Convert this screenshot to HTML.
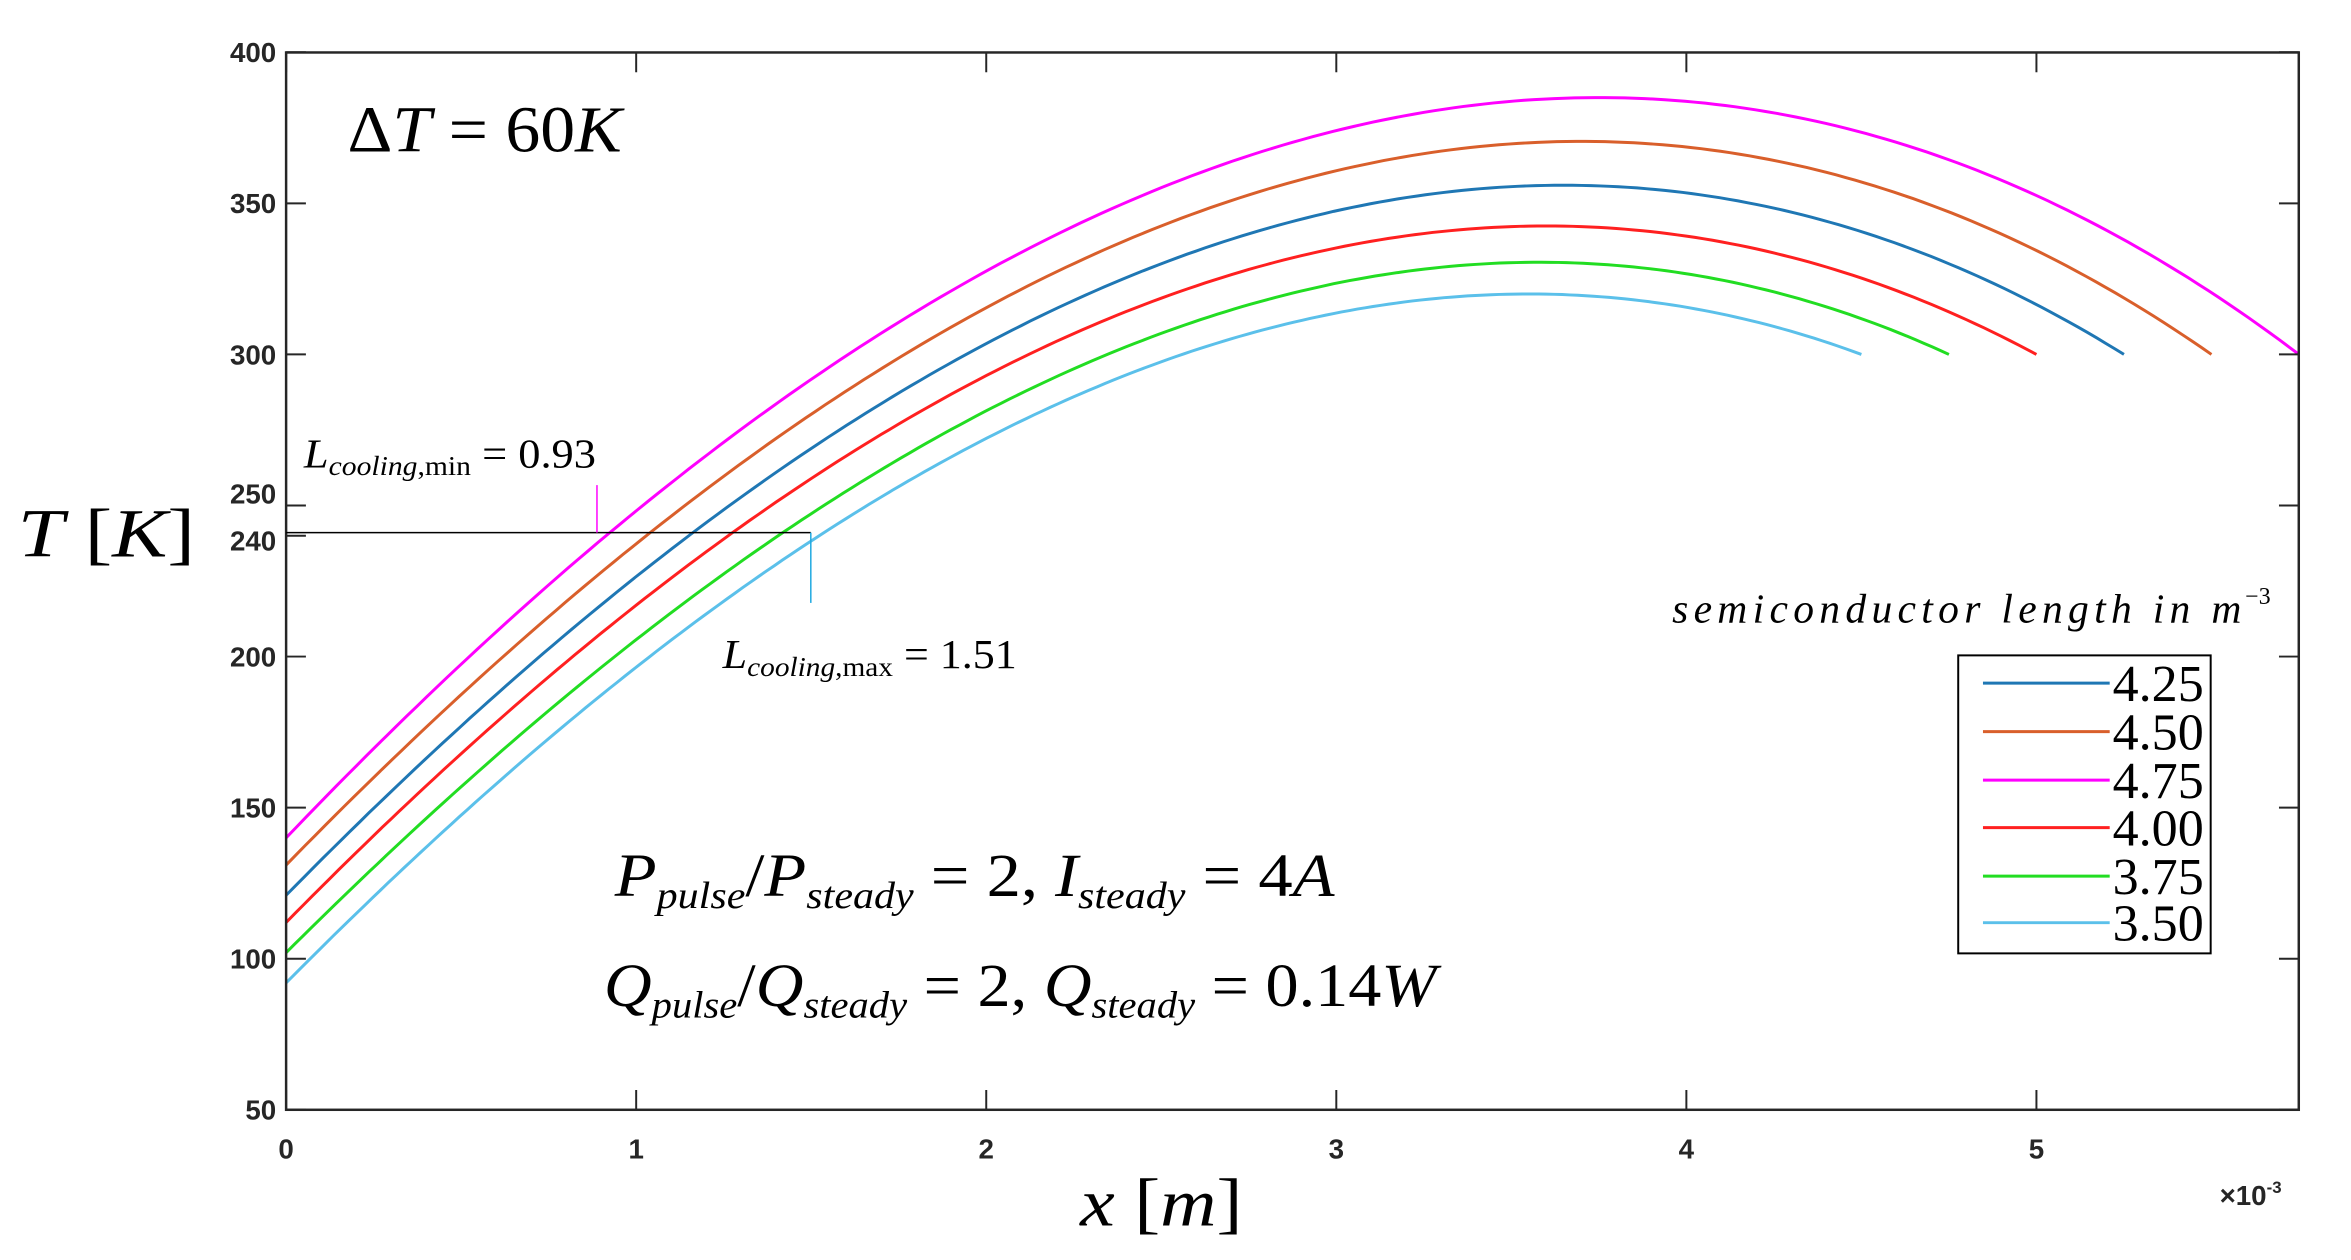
<!DOCTYPE html>
<html><head><meta charset="utf-8">
<style>
html,body{margin:0;padding:0;background:#fff;}
svg{display:block;}
.tk{font-family:"Liberation Sans",Arial,sans-serif;font-weight:bold;font-size:28px;fill:#262626;}
.m{font-family:"Liberation Serif","Times New Roman",serif;fill:#000;}
</style></head>
<body>
<svg id="s" width="2351" height="1260" viewBox="0 0 2351 1260" xmlns="http://www.w3.org/2000/svg">
<rect x="0" y="0" width="2351" height="1260" fill="#fff"/>
<g transform="scale(0.99)">
<g id="curves" fill="none" stroke-width="3"></g>
<rect x="289" y="53" width="2033" height="1068" fill="none" stroke="#262626" stroke-width="2.5"/>
<g id="ticks" stroke="#262626" stroke-width="2"></g>
<g id="labels"></g>
<line x1="289" y1="538" x2="819" y2="538" stroke="#000" stroke-width="1.5"/>
<line x1="603" y1="538" x2="603" y2="490" stroke="#ff00ff" stroke-width="1.5"/>
<line x1="819" y1="538" x2="819" y2="609" stroke="#1ea8e0" stroke-width="1.5"/>
<text class="m" x="351" y="153" font-size="66" textLength="277" lengthAdjust="spacingAndGlyphs"><tspan>Δ</tspan><tspan font-style="italic">T</tspan> = 60<tspan font-style="italic">K</tspan></text>
<text class="m" x="18" y="562" font-size="70" textLength="179" lengthAdjust="spacingAndGlyphs"><tspan font-style="italic">T</tspan>  [<tspan font-style="italic">K</tspan>]</text>
<text class="m" x="307" y="472" font-size="42" textLength="295" lengthAdjust="spacingAndGlyphs"><tspan font-style="italic">L</tspan><tspan font-size="28" dy="8" font-style="italic">cooling</tspan><tspan font-size="28">,min</tspan><tspan dy="-8"> = 0.93</tspan></text>
<text class="m" x="730" y="675" font-size="42" textLength="297" lengthAdjust="spacingAndGlyphs"><tspan font-style="italic">L</tspan><tspan font-size="28" dy="8" font-style="italic">cooling</tspan><tspan font-size="28">,max</tspan><tspan dy="-8"> = 1.51</tspan></text>
<text class="m" x="621" y="905" font-size="62" textLength="727" lengthAdjust="spacingAndGlyphs"><tspan font-style="italic">P</tspan><tspan font-size="38" dy="12" font-style="italic">pulse</tspan><tspan dy="-12">/</tspan><tspan font-style="italic">P</tspan><tspan font-size="38" dy="12" font-style="italic">steady</tspan><tspan dy="-12"> = 2,  </tspan><tspan font-style="italic">I</tspan><tspan font-size="38" dy="12" font-style="italic">steady</tspan><tspan dy="-12"> = 4</tspan><tspan font-style="italic">A</tspan></text>
<text class="m" x="610" y="1016" font-size="62" textLength="841" lengthAdjust="spacingAndGlyphs"><tspan font-style="italic">Q</tspan><tspan font-size="38" dy="12" font-style="italic">pulse</tspan><tspan dy="-12">/</tspan><tspan font-style="italic">Q</tspan><tspan font-size="38" dy="12" font-style="italic">steady</tspan><tspan dy="-12"> = 2, </tspan><tspan font-style="italic">Q</tspan><tspan font-size="38" dy="12" font-style="italic">steady</tspan><tspan dy="-12"> = 0.14</tspan><tspan font-style="italic">W</tspan></text>
<text class="m" x="1091" y="1238" font-size="68" textLength="164" lengthAdjust="spacingAndGlyphs"><tspan font-style="italic">x</tspan> [<tspan font-style="italic">m</tspan>]</text>
<text class="tk" x="2242" y="1217" font-weight="normal" font-size="26">×10<tspan font-size="17" dy="-12">-3</tspan></text>
<text class="m" x="1689" y="629" font-size="42" font-style="italic" textLength="575">semiconductor  length  in  m</text>
<text class="m" x="2268" y="610" font-size="24">−3</text>
<rect x="1978" y="662" width="255" height="301" fill="#fff" stroke="#000" stroke-width="2"/>
<g id="leg"></g>
</g>
</svg>
<script>
var X0=289,XS=353.6,Y0=1121,YS=152.6/50;
function px(x){return X0+x*XS;}function py(t){return Y0-(t-50)*YS;}
var series=[
 ["4.75","#ff00ff",140,5.75,3.75,385],
 ["4.50","#d95f2b",131,5.5,3.7,370.5],
 ["4.25","#1f77b4",121,5.25,3.65,356],
 ["4.00","#ff2020",112,5.0,3.6,342.5],
 ["3.75","#22dd22",102,4.75,3.58,330.5],
 ["3.50","#5bc0ea",92,4.5,3.55,320]];
function solve(A,b){var n=b.length;for(var i=0;i<n;i++){var p=i;for(var r=i+1;r<n;r++)if(Math.abs(A[r][i])>Math.abs(A[p][i]))p=r;
 var t=A[i];A[i]=A[p];A[p]=t;t=b[i];b[i]=b[p];b[p]=t;
 for(var r=0;r<n;r++)if(r!=i){var f=A[r][i]/A[i][i];for(var c=i;c<n;c++)A[r][c]-=f*A[i][c];b[r]-=f*b[i];}}
 return b.map(function(v,i){return v/A[i][i];});}
var ns="http://www.w3.org/2000/svg",g=document.getElementById("curves");
series.forEach(function(s){var T0=s[2],L=s[3],xp=s[4],Tp=s[5];
 var c=solve([[1,0,0,0],[1,L,L*L,L*L*L],[1,xp,xp*xp,xp*xp*xp],[0,1,2*xp,3*xp*xp]],[T0,300,Tp,0]);
 var d="";for(var i=0;i<=200;i++){var x=L*i/200,t=c[0]+c[1]*x+c[2]*x*x+c[3]*x*x*x;d+=(i?"L":"M")+px(x).toFixed(1)+" "+py(t).toFixed(1);}
 var p=document.createElementNS(ns,"path");p.setAttribute("d",d);p.setAttribute("stroke",s[1]);g.appendChild(p);});
var tk=document.getElementById("ticks"),lb=document.getElementById("labels");
function ln(a,b,c,d){var l=document.createElementNS(ns,"line");l.setAttribute("x1",a);l.setAttribute("y1",b);l.setAttribute("x2",c);l.setAttribute("y2",d);tk.appendChild(l);}
function tx(x,y,s,anc){var t=document.createElementNS(ns,"text");t.setAttribute("x",x);t.setAttribute("y",y);t.setAttribute("class","tk");t.setAttribute("text-anchor",anc);t.textContent=s;lb.appendChild(t);}
[50,100,150,200,240,250,300,350,400].forEach(function(v){var y=py(v);ln(289,y,309,y);if(v!=240)ln(2322,y,2302,y);
 tx(279,y+(v==250?-2:v==240?15:10),String(v),"end");});
for(var i=0;i<=5;i++){var x=px(i);ln(x,1121,x,1101);ln(x,53,x,73);tx(x,1170,String(i),"middle");}
var leg=document.getElementById("leg"),ord=[[ "4.25","#1f77b4"],["4.50","#d95f2b"],["4.75","#ff00ff"],["4.00","#ff2020"],["3.75","#22dd22"],["3.50","#5bc0ea"]];
var ys=[690,739,788,836,885,932];
ord.forEach(function(o,i){var l=document.createElementNS(ns,"line");l.setAttribute("x1",2003);l.setAttribute("x2",2131);l.setAttribute("y1",ys[i]);l.setAttribute("y2",ys[i]);l.setAttribute("stroke",o[1]);l.setAttribute("stroke-width",3);leg.appendChild(l);
 var t=document.createElementNS(ns,"text");t.setAttribute("x",2134);t.setAttribute("y",ys[i]+18);t.setAttribute("class","m");t.setAttribute("font-size","52");t.setAttribute("textLength","92");t.setAttribute("lengthAdjust","spacingAndGlyphs");t.textContent=o[0];leg.appendChild(t);});
</script>
</body></html>
